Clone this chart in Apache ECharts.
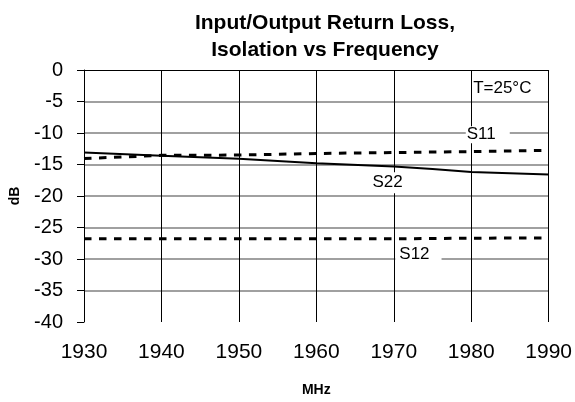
<!DOCTYPE html>
<html>
<head>
<meta charset="utf-8">
<title>Input/Output Return Loss, Isolation vs Frequency</title>
<script src="https://cdn.jsdelivr.net/npm/echarts@6/dist/echarts.min.js"></script>
<style>
  html, body { margin: 0; padding: 0; background: #fff; }
  #chart { width: 575px; height: 402px; }
</style>
</head>
<body>
<div id="chart"></div>
<script>
// values (MHz / dB)
const freqS11 = [1930, 1935, 1940, 1950, 1960, 1970, 1980, 1990];
const s11 = [-14.05, -13.8, -13.55, -13.5, -13.25, -13.1, -12.95, -12.75];

const freqS22 = [1930, 1940, 1950, 1960, 1970, 1975, 1980, 1990];
const s22 = [-13.1, -13.6, -14.1, -14.8, -15.3, -15.7, -16.2, -16.6];

const freqS12 = [1930, 1970, 1980, 1990];
const s12 = [-26.8, -26.8, -26.7, -26.65];

// curve labels, placed in data units
const noteText = ['S11', 'S22', 'S12', 'T=25°C'];
const noteFreq = [1979.3, 1969.2, 1970.2, 1980.25];
const noteDb = [-10.27, -17.9, -29.25, -2.9];

const font = '"Liberation Sans", Arial, Helvetica, sans-serif';

const pairs = (xs, ys) => xs.map((x, i) => [x, ys[i]]);

// one markPoint entry per note; padding shapes the white patch behind it
function note(i, align, padding, boxed) {
  return {
    coord: [noteFreq[i], noteDb[i]],
    label: {
      show: true,
      position: 'inside',
      formatter: noteText[i],
      align,
      color: '#000',
      fontFamily: font,
      fontSize: 17,
      padding,
      backgroundColor: boxed ? '#fff' : 'transparent',
    },
  };
}

function markPoints(list) {
  return { symbol: 'circle', symbolSize: 0, silent: true, animation: false, data: list };
}

const chart = echarts.init(document.getElementById('chart'), null, { renderer: 'canvas' });

chart.setOption({
  animation: false,
  backgroundColor: '#fff',
  title: {
    text: 'Input/Output Return Loss,\nIsolation vs Frequency',
    left: 320,
    top: 5,
    textAlign: 'center',
    textStyle: { fontFamily: font, fontWeight: 'bold', fontSize: 21, lineHeight: 27, color: '#000' },
  },
  grid: { left: 83, right: 26, top: 70, bottom: 76 },
  xAxis: [
    {
      type: 'value',
      min: 1930,
      max: 1990,
      interval: 10,
      name: 'MHz',
      nameLocation: 'middle',
      nameGap: 61,
      nameTextStyle: { fontFamily: font, fontWeight: 'bold', fontSize: 14, color: '#000' },
      axisLine: { show: true, lineStyle: { color: '#000', width: 1 } },
      axisTick: { show: true, length: 7, lineStyle: { color: '#000' } },
      axisLabel: { margin: 20, fontFamily: font, fontSize: 21, color: '#000', formatter: (v) => String(v) },
      splitLine: { show: true, lineStyle: { color: '#000', width: 1 } },
    },
    {
      // top border of the plot
      type: 'value',
      position: 'top',
      min: 1930,
      max: 1990,
      interval: 10,
      axisLine: { show: true, lineStyle: { color: '#000', width: 1 } },
      axisTick: { show: false },
      axisLabel: { show: false },
      splitLine: { show: false },
    },
  ],
  yAxis: {
    type: 'value',
    min: -40,
    max: 0,
    interval: 5,
    name: 'dB',
    nameLocation: 'middle',
    nameGap: 62,
    nameTextStyle: { fontFamily: font, fontWeight: 'bold', fontSize: 14, color: '#000' },
    axisLine: { show: true, lineStyle: { color: '#000', width: 1 } },
    axisTick: { show: true, length: 7, lineStyle: { color: '#000' } },
    axisLabel: { margin: 21, fontFamily: font, fontSize: 20, color: '#000' },
    splitLine: { show: true, showMinLine: false, showMaxLine: false, lineStyle: { color: '#808080', width: 1.5 } },
  },
  series: [
    {
      name: 'S11',
      type: 'line',
      data: pairs(freqS11, s11),
      symbol: 'none',
      lineStyle: { color: '#000', width: 3, type: [7.5, 7.5], cap: 'butt' },
      z: 3,
      markPoint: markPoints([note(0, 'left', [0, 14, 0, 1], true)]),
    },
    {
      name: 'S22',
      type: 'line',
      data: pairs(freqS22, s22),
      symbol: 'none',
      lineStyle: { color: '#000', width: 2 },
      z: 3,
      markPoint: markPoints([
        note(1, 'center', [2, 2, 2, 2], true),
        note(3, 'left', [0, 0, 0, 0], false),
      ]),
    },
    {
      name: 'S12',
      type: 'line',
      data: pairs(freqS12, s12),
      symbol: 'none',
      lineStyle: { color: '#000', width: 3, type: [7.5, 7.5], cap: 'butt' },
      z: 3,
      markPoint: markPoints([note(2, 'left', [1, 12, 1, 4], true)]),
    },
  ],
});
</script>
</body>
</html>
